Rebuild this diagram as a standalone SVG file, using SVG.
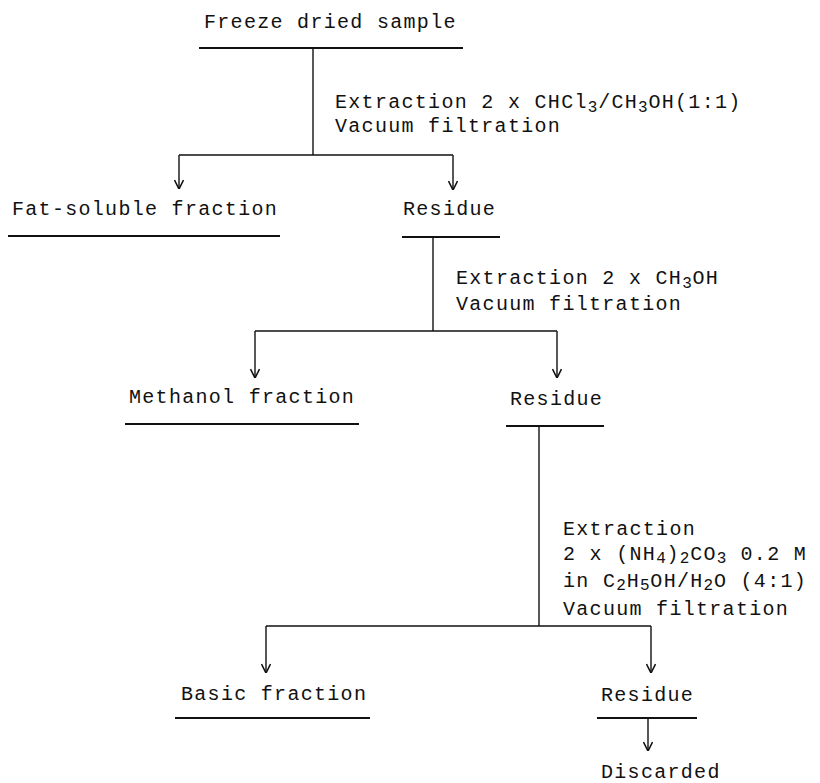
<svg xmlns="http://www.w3.org/2000/svg" width="820" height="783" viewBox="0 0 820 783">
<style>
text{font-family:"Liberation Mono","DejaVu Sans Mono",monospace;font-size:20px;letter-spacing:1.3px;fill:#111}
.sub{font-size:16px;letter-spacing:0.8px}
.ul{stroke:#111;stroke-width:1.8;fill:none}
.c{stroke:#111;stroke-width:1.4;fill:none}
</style>
<defs>
<marker id="ah" viewBox="0 0 10 10" refX="10" refY="5" markerWidth="10" markerHeight="10" markerUnits="userSpaceOnUse" orient="auto">
<polyline points="1,0.5 10,5 1,9.5" fill="none" stroke="#111" stroke-width="1.6"/>
</marker>
</defs>
<rect width="820" height="783" fill="#fff"/>
<g id="n-freeze"><text x="204" y="28">Freeze dried sample</text><line class="ul" x1="199" y1="48" x2="463" y2="48"/></g>
<g id="n-fat"><text x="12" y="215">Fat-soluble fraction</text><line class="ul" x1="8" y1="236" x2="280" y2="236"/></g>
<g id="n-res1"><text x="403" y="215">Residue</text><line class="ul" x1="402" y1="237" x2="500" y2="237"/></g>
<g id="n-meth"><text x="129" y="403">Methanol fraction</text><line class="ul" x1="125" y1="424" x2="359" y2="424"/></g>
<g id="n-res2"><text x="510" y="405">Residue</text><line class="ul" x1="506" y1="426" x2="604" y2="426"/></g>
<g id="n-basic"><text x="181" y="700">Basic fraction</text><line class="ul" x1="175" y1="718" x2="370" y2="718"/></g>
<g id="n-res3"><text x="601" y="701">Residue</text><line class="ul" x1="597" y1="718" x2="697" y2="718"/></g>
<g id="n-disc"><text x="601" y="778">Discarded</text></g>
<g id="labels">
<text x="335" y="108">Extraction 2 x CHCl<tspan class="sub" dy="4">3</tspan><tspan dy="-4">/CH</tspan><tspan class="sub" dy="4">3</tspan><tspan dy="-4">OH(1:1)</tspan></text>
<text x="335" y="132">Vacuum filtration</text>
<text x="456" y="284">Extraction 2 x CH<tspan class="sub" dy="4">3</tspan><tspan dy="-4">OH</tspan></text>
<text x="456" y="310">Vacuum filtration</text>
<text x="563" y="535">Extraction</text>
<text x="563" y="560">2 x (NH<tspan class="sub" dy="3">4</tspan><tspan dy="-3">)</tspan><tspan class="sub" dy="3">2</tspan><tspan dy="-3">CO</tspan><tspan class="sub" dy="3">3</tspan><tspan dy="-3"> 0.2 M</tspan></text>
<text x="563" y="587">in C<tspan class="sub" dy="3">2</tspan><tspan dy="-3">H</tspan><tspan class="sub" dy="3">5</tspan><tspan dy="-3">OH/H</tspan><tspan class="sub" dy="3">2</tspan><tspan dy="-3">O (4:1)</tspan></text>
<text x="563" y="615">Vacuum filtration</text>
</g>
<g id="connectors">
<line class="c" x1="313" y1="48" x2="313" y2="155"/>
<line class="c" x1="179" y1="155" x2="453" y2="155"/>
<line class="c" x1="179" y1="155" x2="179" y2="189" marker-end="url(#ah)"/>
<line class="c" x1="453" y1="155" x2="453" y2="190" marker-end="url(#ah)"/>
<line class="c" x1="433" y1="237" x2="433" y2="331"/>
<line class="c" x1="255" y1="331" x2="557" y2="331"/>
<line class="c" x1="255" y1="331" x2="255" y2="378" marker-end="url(#ah)"/>
<line class="c" x1="557" y1="331" x2="557" y2="378" marker-end="url(#ah)"/>
<line class="c" x1="539" y1="426" x2="539" y2="626"/>
<line class="c" x1="266" y1="626" x2="651" y2="626"/>
<line class="c" x1="266" y1="626" x2="266" y2="673" marker-end="url(#ah)"/>
<line class="c" x1="651" y1="626" x2="651" y2="673" marker-end="url(#ah)"/>
<line class="c" x1="648" y1="718" x2="648" y2="751" marker-end="url(#ah)"/>
</g>
</svg>
